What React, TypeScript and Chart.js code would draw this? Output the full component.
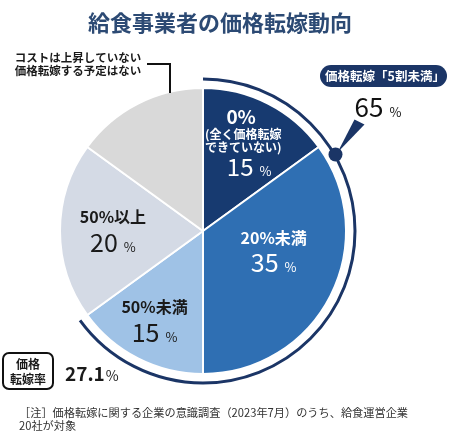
import React, { useEffect, useRef } from 'react';
import Chart from 'chart.js/auto';

// slice order: clockwise from 12 o'clock
const categories: string[][] = [
  ['0%', '(全く価格転嫁', 'できていない)'],
  ['20%未満'],
  ['50%未満'],
  ['50%以上'],
  ['コストは上昇していない', '価格転嫁する予定はない'],
];
const shares = [15, 35, 15, 20, 15];
const groupLabel = '価格転嫁「5割未満」';
const groupShare = 65;
const groupSlices = 3; // first three slices make up the 65%
const rateLabel = ['価格', '転嫁率'];
const rateValue = '27.1';
const titleText = '給食事業者の価格転嫁動向';
const noteLines = [
  '［注］価格転嫁に関する企業の意識調査（2023年7月）のうち、給食運営企業',
  '20社が対象',
];

const sliceColors = ['#173a70', '#2f6fb3', '#9fc2e6', '#d4dae5', '#d9d9d9'];
const textColors = ['#ffffff', '#ffffff', '#1a1a1a', '#1a1a1a'];
const NAVY = '#1b3566';
const JP = '"Noto Sans CJK JP", "Noto Sans", sans-serif';
const f = (w: string | number, s: number) => `${w} ${s}px ${JP}`;

// where each in-slice label block sits (fraction of radius + nudge)
const labelPlace = [
  { r: 0.68, dx: -4, dy: -2 },
  { r: 0.5, dx: 7, dy: -13 },
  { r: 0.7, dx: -3, dy: 0 },
  { r: 0.63, dx: 0, dy: -1 },
];

const drawValue = (ctx: CanvasRenderingContext2D, v: string, x: number, y: number, size: number, color: string) => {
  ctx.fillStyle = color;
  ctx.textBaseline = 'alphabetic';
  ctx.font = f(400, size);
  const w1 = ctx.measureText(v).width;
  ctx.font = f(400, 13);
  const w2 = ctx.measureText('%').width;
  const gap = 6;
  const left = x - (w1 + gap + w2) / 2;
  const base = y + size * 0.36;
  ctx.textAlign = 'left';
  ctx.font = f(400, size);
  ctx.fillText(v, left, base);
  ctx.font = f(400, 13);
  ctx.fillText('%', left + w1 + gap, base);
};

const overlay = {
  id: 'overlay',
  afterDraw(chart: any) {
    const ctx: CanvasRenderingContext2D = chart.ctx;
    const arcs = chart.getDatasetMeta(0).data as any[];
    const { x: cx, y: cy, outerRadius: R } = arcs[0].getProps(['x', 'y', 'outerRadius'], true);
    ctx.save();

    // title
    ctx.fillStyle = '#2c4a74';
    ctx.font = f('bold', 22);
    ctx.textAlign = 'center';
    ctx.textBaseline = 'middle';
    ctx.fillText(titleText, 220, 23);

    // slice labels
    labelPlace.forEach((p, i) => {
      const a = arcs[i];
      const mid = (a.startAngle + a.endAngle) / 2;
      const x = cx + Math.cos(mid) * R * p.r + p.dx;
      const y = cy + Math.sin(mid) * R * p.r + p.dy;
      const lines = categories[i];
      const col = textColors[i];
      ctx.fillStyle = col;
      ctx.textAlign = 'center';
      ctx.textBaseline = 'middle';
      if (lines.length > 1) {
        ctx.font = f('bold', 19);
        ctx.fillText(lines[0], x - 2, y - 26);
        ctx.font = f('bold', 12);
        ctx.fillText(lines[1], x, y - 8);
        ctx.fillText(lines[2], x, y + 5);
        drawValue(ctx, String(shares[i]), x + 6, y + 25, 24, col);
      } else {
        ctx.font = f('bold', 16);
        ctx.fillText(lines[0], x, y - 13);
        drawValue(ctx, String(shares[i]), x, y + 13, 25, col);
      }
    });

    // outer label for the last slice
    ctx.fillStyle = '#1a1a1a';
    ctx.font = f('bold', 11.5);
    ctx.textAlign = 'center';
    ctx.textBaseline = 'middle';
    categories[4].forEach((t, k) => ctx.fillText(t, 78, 58 + k * 13));
    ctx.strokeStyle = '#111';
    ctx.lineWidth = 2;
    ctx.beginPath();
    ctx.moveTo(147, 64);
    ctx.lineTo(170, 64);
    ctx.lineTo(170, 93);
    ctx.stroke();

    // bracket arc over the "under 50%" group
    ctx.strokeStyle = NAVY;
    ctx.lineWidth = 3;
    ctx.beginPath();
    ctx.arc(cx, cy, R + 9, arcs[0].startAngle, arcs[groupSlices - 1].endAngle);
    ctx.stroke();

    const da = -Math.PI / 6;
    const dX = cx + Math.cos(da) * (R + 10);
    const dY = cy + Math.sin(da) * (R + 10);
    ctx.fillStyle = NAVY;
    ctx.beginPath();
    ctx.moveTo(dX + 2, dY - 2);
    ctx.lineTo(dX + 19, dY - 35);
    ctx.lineTo(dX + 29, dY - 30);
    ctx.closePath();
    ctx.fill();
    ctx.beginPath();
    ctx.arc(dX, dY, 7, 0, Math.PI * 2);
    ctx.fill();

    // badge
    ctx.beginPath();
    ctx.roundRect(320, 65, 127, 22, 11);
    ctx.fill();
    ctx.fillStyle = '#fff';
    ctx.font = f('bold', 12.5);
    ctx.textAlign = 'center';
    ctx.textBaseline = 'middle';
    ctx.fillText(groupLabel, 385, 76.5);
    drawValue(ctx, String(groupShare), 378, 108, 26, '#111');

    // rate box
    ctx.strokeStyle = '#111';
    ctx.lineWidth = 2;
    ctx.beginPath();
    ctx.roundRect(3, 353, 50, 36, 6);
    ctx.stroke();
    ctx.fillStyle = '#1a1a1a';
    ctx.font = f('bold', 12);
    ctx.textAlign = 'center';
    ctx.textBaseline = 'middle';
    ctx.fillText(rateLabel[0], 28, 364);
    ctx.fillText(rateLabel[1], 28, 379);
    ctx.textAlign = 'left';
    ctx.textBaseline = 'alphabetic';
    ctx.font = f('bold', 19);
    ctx.fillText(rateValue, 65, 381);
    const rw = ctx.measureText(rateValue).width;
    ctx.font = f(400, 14);
    ctx.fillText('%', 65 + rw + 1, 381);

    // note
    ctx.fillStyle = '#333';
    ctx.font = f(400, 11.2);
    ctx.textBaseline = 'middle';
    noteLines.forEach((t, k) => ctx.fillText(t, 19, 413 + k * 13));

    ctx.restore();
  },
};

const App: React.FC = () => {
  const canvasRef = useRef<HTMLCanvasElement | null>(null);
  const chartRef = useRef<Chart<'pie'> | null>(null);

  useEffect(() => {
    if (!canvasRef.current) return;
    if (chartRef.current) chartRef.current.destroy();

    chartRef.current = new Chart(canvasRef.current, {
      type: 'pie',
      data: {
        labels: categories.map((c) => c.join('')),
        datasets: [
          {
            data: shares,
            backgroundColor: sliceColors,
            borderColor: '#ffffff',
            borderWidth: 2,
            radius: 143,
          } as any,
        ],
      },
      options: {
        responsive: false,
        animation: false,
        events: [],
        layout: { padding: { left: 60, right: 105, top: 88, bottom: 67 } },
        plugins: {
          legend: { display: false },
          tooltip: { enabled: false },
        },
      },
      plugins: [overlay],
    });

    return () => {
      if (chartRef.current) {
        chartRef.current.destroy();
        chartRef.current = null;
      }
    };
  }, []);

  return (
    <div style={{ position: 'absolute', left: 0, top: 0, width: 451, height: 441, background: '#fff' }}>
      <canvas ref={canvasRef} width={451} height={441} style={{ display: 'block' }} />
    </div>
  );
};

export default App;
